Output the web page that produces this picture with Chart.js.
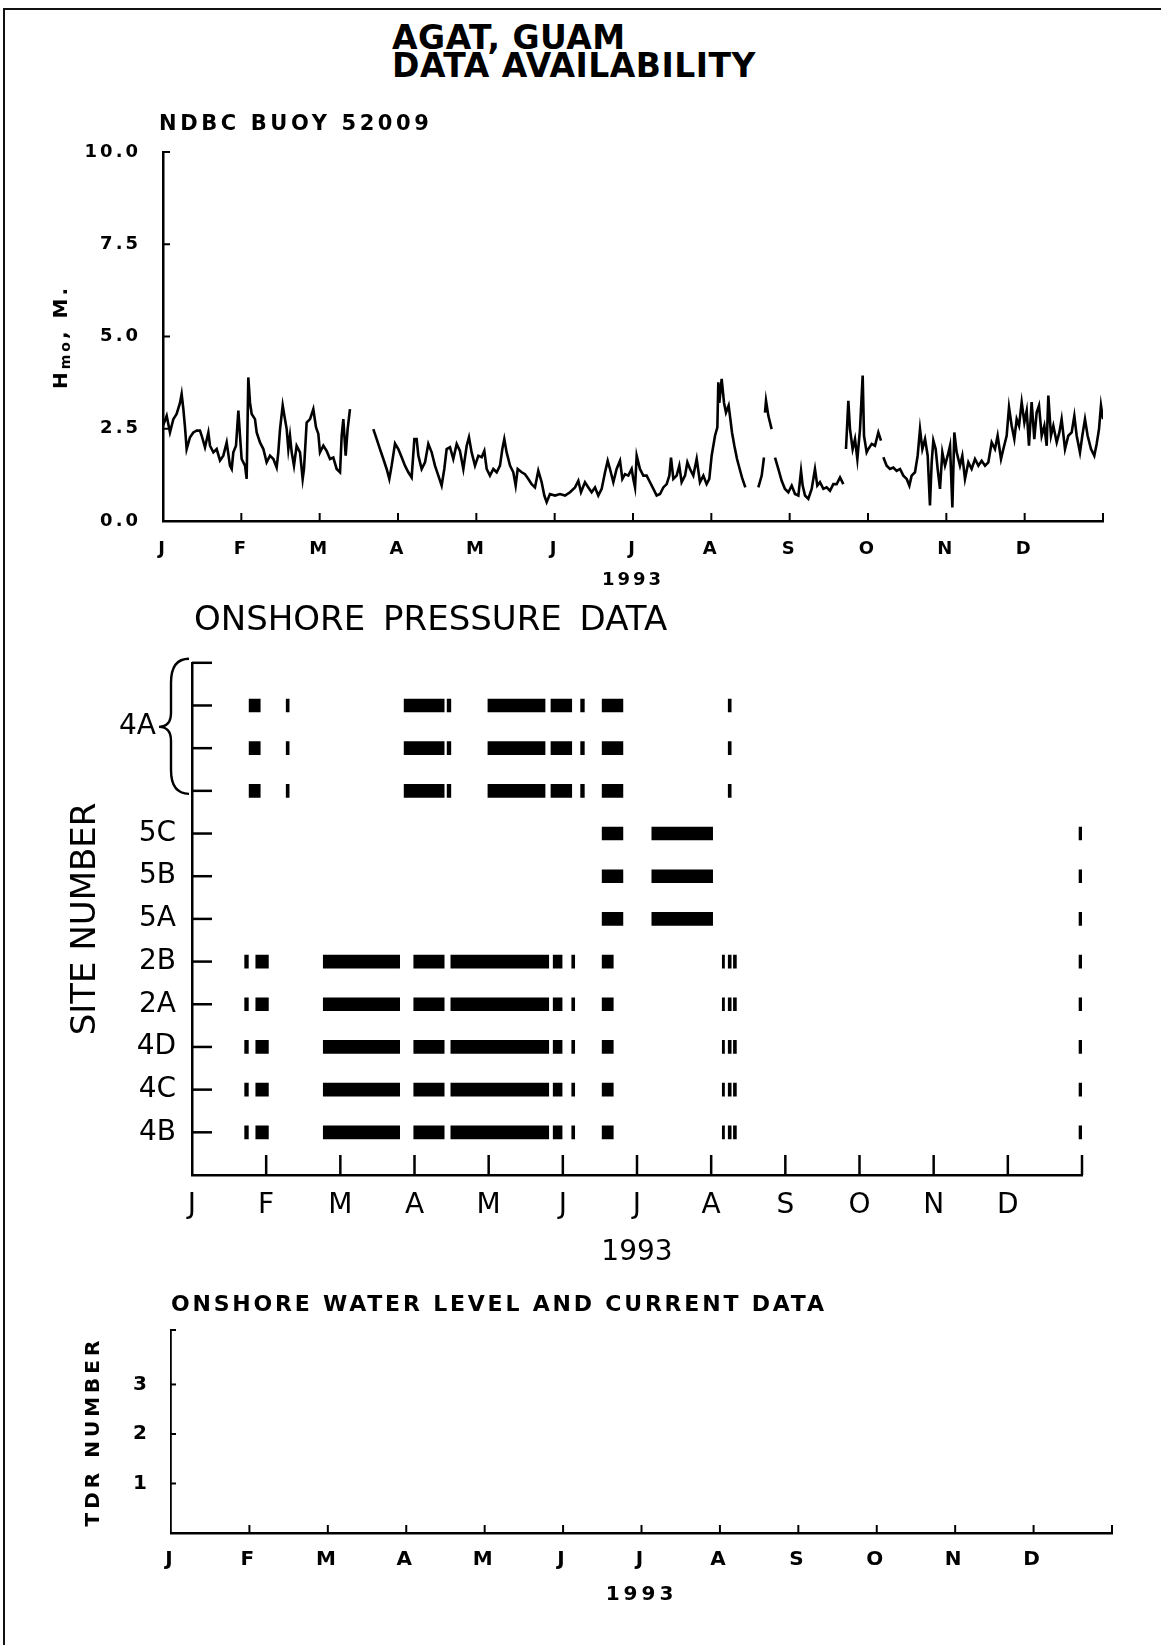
<!DOCTYPE html>
<html>
<head>
<meta charset="utf-8">
<title>Agat, Guam data availability</title>
<script src="https://cdn.jsdelivr.net/npm/chart.js@4.4.1/dist/chart.umd.min.js"></script>
<style>
  body { margin: 0; background: #fff; }
  #page { position: relative; width: 1161px; height: 1645px; overflow: hidden; font-family: "DejaVu Sans", sans-serif; color: #000; }
  .frame { position: absolute; left: 3px; top: 8px; right: -5px; bottom: -5px; border-top: 2.5px solid #111; border-left: 2.5px solid #111; }
  .txt { position: absolute; white-space: nowrap; line-height: 1; }
  .bold { font-weight: bold; }
  canvas { position: absolute; left: 0; }
  #hmoTitle { left: 61px; top: 337px; font-size: 20px; font-weight: bold; letter-spacing: 3px; transform: translate(-50%, -50%) rotate(-90deg); }
  #hmoTitle sub { font-size: 14px; vertical-align: -3px; }
</style>
</head>
<body>
<div id="page">
  <div class="frame"></div>

  <canvas id="hmo" width="1161" height="530" style="top:95px"></canvas>
  <canvas id="pressure" width="1161" height="650" style="top:630px"></canvas>
  <canvas id="tdr" width="1161" height="340" style="top:1290px"></canvas>

  <div class="txt bold" style="left:392px; top:21px; font-size:33px; letter-spacing:0.5px">AGAT, GUAM</div>
  <div class="txt bold" style="left:392px; top:49px; font-size:33px; letter-spacing:0.5px">DATA AVAILABILITY</div>
  <div class="txt bold" style="left:159px; top:113px; font-size:21px; letter-spacing:3.6px">NDBC BUOY 52009</div>
  <div class="txt" id="hmoTitle">H<sub>mo</sub>, M.</div>
  <div class="txt" style="left:194px; top:601px; font-size:34px; word-spacing:7px">ONSHORE PRESSURE DATA</div>
  <div class="txt bold" style="left:171px; top:1293px; font-size:22px; letter-spacing:2.8px">ONSHORE WATER LEVEL AND CURRENT DATA</div>
</div>

<script>
// month axis shared by all three panels
const monthLetters = ['J', 'F', 'M', 'A', 'M', 'J', 'J', 'A', 'S', 'O', 'N', 'D'];
const monthTicks = [0, 1, 2, 3, 4, 5, 6, 7, 8, 9, 10, 11, 12];
const yearLabel = '1993';

// NDBC buoy 52009 wave height, month of year (0 = Jan 1) and Hmo in metres, null = no data
const hmoMonth = [
  0.00, 0.047, 0.089, 0.132, 0.174, 0.217, 0.238, 0.260, 0.281, 0.302,
  0.345, 0.387, 0.430, 0.472, 0.494, 0.536, 0.579, 0.600, 0.643, 0.685,
  0.728, 0.770, 0.813, 0.855, 0.877, 0.898, 0.932, 0.962, 0.983, 1.004,
  1.047, 1.068, 1.089, 1.111, 1.132, 1.174, 1.196, 1.238, 1.281, 1.323,
  1.366, 1.409, 1.451, 1.472, 1.494, 1.528, 1.557, 1.579, 1.600, 1.621,
  1.643, 1.672, 1.706, 1.749, 1.783, 1.800, 1.834, 1.877, 1.919, 1.953,
  1.983, 2.004, 2.047, 2.089, 2.132, 2.174, 2.217, 2.260, 2.281, 2.302,
  2.332, 2.357, 2.387, 2.40, 2.685, 2.728, 2.770, 2.813, 2.855, 2.889,
  2.919, 2.962, 3.004,
  3.047, 3.089, 3.132, 3.174, 3.209, 3.238, 3.260, 3.302, 3.345, 3.387,
  3.430, 3.472, 3.515, 3.557, 3.591, 3.621, 3.664, 3.706, 3.749, 3.791,
  3.834, 3.877, 3.906, 3.940, 3.983, 4.026, 4.068, 4.102, 4.132, 4.174,
  4.217, 4.260, 4.302, 4.332, 4.357, 4.387, 4.430, 4.472, 4.502, 4.528,
  4.579, 4.621, 4.664, 4.706, 4.749, 4.791, 4.834, 4.868, 4.898, 4.940,
  5.004, 5.068, 5.132, 5.196, 5.260, 5.302, 5.336, 5.387, 5.430, 5.472,
  5.515, 5.557, 5.600, 5.643, 5.677, 5.706, 5.749, 5.791, 5.834, 5.864,
  5.898, 5.940, 5.983,
  6.004, 6.026, 6.047, 6.089, 6.132, 6.174, 6.217, 6.260, 6.302, 6.345,
  6.387, 6.430, 6.464, 6.485, 6.515, 6.557, 6.591, 6.621, 6.664, 6.694,
  6.728, 6.770, 6.813, 6.855, 6.898, 6.940, 6.974, 7.004, 7.047, 7.077,
  7.089, 7.102, 7.132, 7.162, 7.187, 7.221, 7.243, 7.264, 7.294, 7.328,
  7.362, 7.391, 7.434, 7.45, 7.600, 7.643, 7.672, 7.68, 7.685, 7.698,
  7.728, 7.770, 7.79, 7.813, 7.855, 7.898, 7.940, 7.983, 8.026, 8.068,
  8.111, 8.145, 8.166, 8.196, 8.238, 8.281, 8.323, 8.353, 8.387, 8.430,
  8.472, 8.515, 8.557, 8.600, 8.643, 8.685, 8.70, 8.719, 8.749, 8.770,
  8.804, 8.834, 8.864, 8.898, 8.932, 8.949, 8.983,
  9.004, 9.047, 9.089, 9.132, 9.166, 9.18, 9.196, 9.238, 9.281, 9.323,
  9.366, 9.409, 9.451, 9.494, 9.528, 9.557, 9.600, 9.634, 9.664, 9.694,
  9.728, 9.762, 9.791, 9.813, 9.834, 9.864, 9.889, 9.919, 9.949, 9.983,
  10.017, 10.047, 10.077, 10.102, 10.132, 10.174, 10.204, 10.238, 10.281, 10.323,
  10.366, 10.409, 10.451, 10.494, 10.536, 10.579, 10.621, 10.655, 10.698, 10.728,
  10.770, 10.800, 10.834, 10.868, 10.898, 10.928, 10.962, 10.996, 11.026, 11.055,
  11.089, 11.123, 11.153, 11.183, 11.217, 11.251, 11.281, 11.302, 11.336, 11.366,
  11.409, 11.443, 11.472, 11.515, 11.557, 11.600, 11.634, 11.664, 11.706, 11.736,
  11.770, 11.804, 11.847, 11.889, 11.919, 11.949, 11.974, 12.000
];
const hmoHeight = [
  2.58, 2.85, 2.40, 2.76, 2.90, 3.20, 3.44, 3.03, 2.54, 1.95,
  2.27, 2.40, 2.45, 2.45, 2.31, 2.00, 2.40, 2.04, 1.86, 1.95,
  1.64, 1.77, 2.13, 1.50, 1.41, 1.86, 2.04, 2.99, 2.31, 1.68,
  1.50, 1.14, 3.89, 3.20, 2.90, 2.76, 2.40, 2.13, 1.95, 1.59,
  1.77, 1.68, 1.45, 1.86, 2.49, 3.13, 2.76, 2.49, 1.95, 2.31,
  1.86, 1.50, 2.04, 1.86, 1.14, 1.41, 2.67, 2.76, 3.03, 2.54,
  2.36, 1.86, 2.04, 1.90, 1.68, 1.72, 1.41, 1.32, 2.31, 2.76,
  1.77, 2.49, 3.03, null, 2.49, 2.22, 1.95, 1.68, 1.41, 1.14,
  1.50, 2.10, 1.95,
  1.73, 1.50, 1.32, 1.18, 2.22, 2.22, 1.77, 1.41, 1.59, 2.09,
  1.86, 1.50, 1.23, 0.96, 1.41, 1.95, 2.00, 1.68, 2.09, 1.90,
  1.41, 2.04, 2.27, 1.86, 1.50, 1.77, 1.73, 1.90, 1.41, 1.23,
  1.41, 1.32, 1.50, 1.95, 2.22, 1.86, 1.50, 1.32, 0.96, 1.41,
  1.32, 1.27, 1.14, 1.00, 0.91, 1.36, 1.05, 0.69, 0.51, 0.73,
  0.69, 0.73, 0.69, 0.78, 0.91, 1.09, 0.78, 1.05, 0.91, 0.78,
  0.91, 0.69, 0.87, 1.32, 1.63, 1.41, 1.05, 1.41, 1.63, 1.14,
  1.27, 1.23, 1.41,
  1.14, 0.91, 1.77, 1.41, 1.23, 1.23, 1.05, 0.87, 0.69, 0.73,
  0.91, 1.00, 1.23, 1.72, 1.14, 1.23, 1.50, 1.05, 1.23, 1.59,
  1.41, 1.23, 1.68, 1.05, 1.23, 1.00, 1.14, 1.77, 2.31, 2.54,
  3.76, 3.20, 3.85, 3.20, 2.94, 3.13, 2.76, 2.40, 2.04, 1.68,
  1.41, 1.18, 0.91, null, 0.91, 1.23, 1.72, null, 2.94, 3.26,
  2.85, 2.49, null, 1.72, 1.41, 1.09, 0.87, 0.78, 0.96, 0.73,
  0.69, 1.36, 0.96, 0.69, 0.60, 0.87, 1.41, 0.96, 1.05, 0.87,
  0.91, 0.82, 1.00, 1.00, 1.18, 1.00, null, 1.95, 3.26, 2.49,
  1.95, 2.22, 1.68, 2.49, 3.94, 2.31, 1.86,
  1.95, 2.09, 2.04, 2.40, 2.18, null, 1.73, 1.50, 1.41, 1.45,
  1.36, 1.41, 1.23, 1.14, 0.96, 1.23, 1.32, 1.77, 2.49, 1.95,
  2.22, 1.77, 0.42, 1.59, 2.18, 1.95, 1.41, 0.87, 1.86, 1.50,
  1.77, 2.04, 0.37, 2.40, 1.86, 1.50, 1.77, 1.14, 1.59, 1.41,
  1.68, 1.50, 1.63, 1.50, 1.59, 2.13, 1.95, 2.31, 1.68, 1.95,
  2.31, 3.08, 2.58, 2.22, 2.76, 2.58, 3.22, 2.67, 2.99, 2.04,
  3.22, 2.22, 2.94, 3.13, 2.31, 2.58, 2.04, 3.40, 2.31, 2.58,
  2.13, 2.40, 2.76, 1.95, 2.31, 2.40, 2.85, 2.31, 1.86, 2.31,
  2.76, 2.31, 1.95, 1.77, 2.09, 2.49, 3.13, 2.76
];
const hmoTicks = [0, 2.5, 5, 7.5, 10];

// onshore pressure gauges, rows from the bottom up
const siteRows = ['4B', '4C', '4D', '2A', '2B', '5A', '5B', '5C', '4A', '4A', '4A'];
const siteTicks = [1, 2, 3, 4, 5, 6, 7, 8, 9, 10, 11, 12];
// periods with data, [start, end] in months
const periods4A = [[0.77, 0.92], [1.27, 1.31], [2.86, 3.40], [3.44, 3.49], [3.99, 4.76],
  [4.84, 5.12], [5.24, 5.29], [5.53, 5.81], [7.23, 7.27]];
const periods5 = [[5.53, 5.81], [6.20, 7.02], [11.96, 12.0]];
const periods2and4 = [[0.71, 0.76], [0.86, 1.03], [1.77, 2.80], [2.99, 3.40], [3.49, 4.81],
  [4.87, 4.99], [5.12, 5.16], [5.53, 5.68], [7.15, 7.18], [7.23, 7.27], [7.30, 7.34], [11.96, 12.0]];
const sitePeriods = [periods2and4, periods2and4, periods2and4, periods2and4, periods2and4,
  periods5, periods5, periods5, periods4A, periods4A, periods4A];

// onshore TDR gauges (no data recorded)
const tdrNumbers = [1, 2, 3];
const tdrData = [];
const tdrMax = 4.1;

Chart.defaults.font.family = '"DejaVu Sans", sans-serif';
Chart.defaults.color = '#000';

// tick marks that point into the plot, like the original plotter output
const inwardTicks = {
  id: 'inwardTicks',
  afterDatasetsDraw(chart, args, opts) {
    const { ctx, chartArea } = chart;
    const xs = chart.scales.x, ys = chart.scales.y;
    ctx.save();
    ctx.strokeStyle = '#000';
    ctx.lineWidth = opts.width;
    xs.ticks.forEach(t => {
      if (t.value <= xs.min) return;
      const px = xs.getPixelForValue(t.value);
      ctx.beginPath();
      ctx.moveTo(px, chartArea.bottom);
      ctx.lineTo(px, chartArea.bottom - opts.x);
      ctx.stroke();
    });
    ys.ticks.forEach(t => {
      if (t.value <= ys.min) return;
      const py = ys.getPixelForValue(t.value);
      ctx.beginPath();
      ctx.moveTo(chartArea.left, py);
      ctx.lineTo(chartArea.left + opts.y, py);
      ctx.stroke();
    });
    ctx.restore();
  }
};

// spaced-out lettering
const spacing = {
  id: 'spacing',
  beforeDraw(chart, args, opts) {
    chart.ctx.letterSpacing = opts.px + 'px';
  }
};

// curly brace that groups the three 4A gauges
const braceLabel = {
  id: 'braceLabel',
  afterDraw(chart, args, opts) {
    const { ctx } = chart;
    const ys = chart.scales.y;
    const left = chart.chartArea.left;
    const rows = siteRows.map((n, i) => (n === opts.name ? i + 1 : null)).filter(v => v !== null);
    const lo = Math.min(...rows), hi = Math.max(...rows) + 1, mid = (lo + hi) / 2;
    const yTop = ys.getPixelForValue(hi) - 4;
    const yBot = ys.getPixelForValue(lo) + 3;
    const yMid = ys.getPixelForValue(mid);
    const xr = left - 3, xm = left - 21, xt = left - 33;
    ctx.save();
    ctx.strokeStyle = '#000';
    ctx.lineWidth = 2.4;
    ctx.beginPath();
    ctx.moveTo(xr, yTop);
    ctx.quadraticCurveTo(xm, yTop, xm, yTop + 24);
    ctx.lineTo(xm, yMid - 14);
    ctx.quadraticCurveTo(xm, yMid, xt, yMid);
    ctx.quadraticCurveTo(xm, yMid, xm, yMid + 14);
    ctx.lineTo(xm, yBot - 24);
    ctx.quadraticCurveTo(xm, yBot, xr, yBot);
    ctx.stroke();
    ctx.fillStyle = '#000';
    ctx.font = '28px "DejaVu Sans"';
    ctx.textAlign = 'right';
    ctx.textBaseline = 'middle';
    ctx.fillText(opts.name, xt - 3, yMid);
    ctx.restore();
  }
};

function monthAxis(height, size, weight, pad, titlePad) {
  return {
    type: 'linear', min: 0, max: 12, offset: false,
    afterBuildTicks: s => { s.ticks = monthTicks.map(v => ({ value: v })); },
    afterFit: s => { s.height = height; },
    border: { display: true, color: '#000', width: 2.5 },
    grid: { display: false, drawTicks: false },
    ticks: {
      autoSkip: false, maxRotation: 0, padding: pad, color: '#000',
      font: { size: size, weight: weight },
      callback: v => monthLetters[v] ?? ''
    },
    title: {
      display: true, text: yearLabel, color: '#000',
      font: { size: size, weight: weight },
      padding: { top: 0, bottom: titlePad }
    }
  };
}

// wave height
new Chart(document.getElementById('hmo'), {
  type: 'line',
  data: {
    datasets: [{
      data: hmoMonth.map((m, i) => ({ x: m, y: hmoHeight[i] })),
      borderColor: '#000',
      borderWidth: 2.6,
      pointRadius: 0,
      tension: 0,
      spanGaps: false
    }]
  },
  options: {
    responsive: false,
    animation: false,
    layout: { padding: { left: 0, right: 58, top: 57, bottom: 0 } },
    plugins: {
      legend: { display: false },
      tooltip: { enabled: false },
      inwardTicks: { x: 8, y: 7, width: 2 },
      spacing: { px: 3 }
    },
    scales: {
      x: monthAxis(104, 18, 'bold', 18, 34),
      y: {
        type: 'linear', min: 0, max: 10, offset: false,
        afterBuildTicks: s => { s.ticks = hmoTicks.map(v => ({ value: v })); },
        afterFit: s => { s.width = 163; },
        border: { display: true, color: '#000', width: 2.5 },
        grid: { display: false, drawTicks: false },
        ticks: { padding: 22, font: { size: 18, weight: 'bold' }, callback: v => v.toFixed(1) }
      }
    }
  },
  plugins: [inwardTicks, spacing]
});

// pressure gauge availability
new Chart(document.getElementById('pressure'), {
  type: 'bar',
  data: {
    datasets: siteRows.map((name, i) => ({
      label: name,
      data: sitePeriods[i].map(p => ({ x: p, y: i + 1 })),
      backgroundColor: '#000',
      borderWidth: 0,
      barThickness: 13,
      grouped: false
    }))
  },
  options: {
    indexAxis: 'y',
    responsive: false,
    animation: false,
    layout: { padding: { left: 0, right: 79, top: 30, bottom: 0 } },
    plugins: {
      legend: { display: false },
      tooltip: { enabled: false },
      inwardTicks: { x: 20, y: 20, width: 2.5 },
      braceLabel: { name: '4A' }
    },
    scales: {
      x: monthAxis(105, 28, 'normal', 14, 10),
      y: {
        type: 'linear', min: 0, max: 12, offset: false,
        afterBuildTicks: s => { s.ticks = siteTicks.map(v => ({ value: v })); },
        afterFit: s => { s.width = 192; },
        border: { display: true, color: '#000', width: 2.5 },
        grid: { display: false, drawTicks: false },
        ticks: {
          padding: 16, font: { size: 28 },
          callback: v => (siteRows[v - 1] && siteRows[v - 1] !== '4A') ? siteRows[v - 1] : ''
        },
        title: { display: true, text: 'SITE NUMBER', font: { size: 34 }, padding: { top: 66, bottom: 0 } }
      }
    }
  },
  plugins: [inwardTicks, braceLabel]
});

// water level and current gauges
new Chart(document.getElementById('tdr'), {
  type: 'line',
  data: { datasets: [{ data: tdrData, borderColor: '#000', pointRadius: 0 }] },
  options: {
    responsive: false,
    animation: false,
    layout: { padding: { left: 0, right: 49, top: 40, bottom: 0 } },
    plugins: {
      legend: { display: false },
      tooltip: { enabled: false },
      inwardTicks: { x: 8, y: 5, width: 2 },
      spacing: { px: 4 }
    },
    scales: {
      x: monthAxis(97, 20, 'bold', 15, 23),
      y: {
        type: 'linear', min: 0, max: tdrMax, offset: false,
        afterBuildTicks: s => { s.ticks = tdrNumbers.concat([tdrMax]).map(v => ({ value: v })); },
        afterFit: s => { s.width = 171; },
        border: { display: true, color: '#000', width: 1.8 },
        grid: { display: false, drawTicks: false },
        ticks: { padding: 20, font: { size: 20, weight: 'bold' }, callback: v => tdrNumbers.includes(v) ? String(v) : '' },
        title: { display: true, text: 'TDR NUMBER', font: { size: 20, weight: 'bold' }, padding: { top: 82, bottom: 0 } }
      }
    }
  },
  plugins: [inwardTicks, spacing]
});
</script>
</body>
</html>
